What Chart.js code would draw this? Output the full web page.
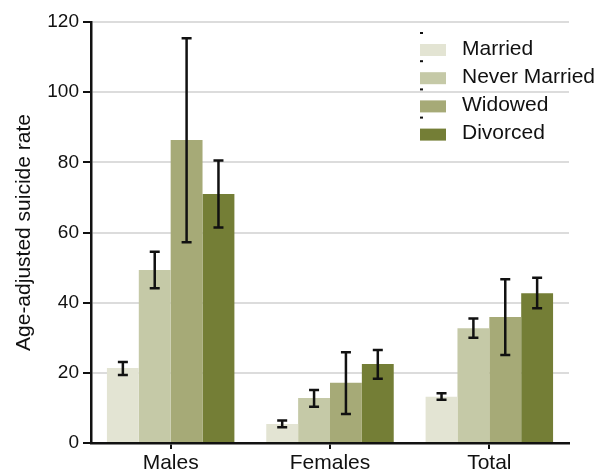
<!DOCTYPE html>
<html>
<head>
<meta charset="utf-8">
<script src="https://cdn.jsdelivr.net/npm/chart.js@4.4.0/dist/chart.umd.min.js"></script>
<style>
  html, body { margin: 0; padding: 0; background: #fff; }
  #wrap { width: 602px; height: 472px; }
</style>
</head>
<body>
<div id="wrap"><canvas id="myChart"></canvas></div>
<script>
const groups = ['Males', 'Females', 'Total'];
const statusLabels = ['Married', 'Never Married', 'Widowed', 'Divorced'];
const statusColors = ['#e3e4d3', '#c5c9a7', '#a6aa77', '#747e36'];

// rates per status, in group order (Males, Females, Total)
const married      = [21.4, 5.4, 13.2];
const neverMarried = [49.3, 12.8, 32.7];
const widowed      = [86.4, 17.2, 35.9];
const divorced     = [71.0, 22.5, 42.7];

// error bar ends
const marriedLow  = [19.4, 4.5, 12.3];
const marriedHigh = [23.1, 6.4, 14.2];
const neverLow    = [44.1, 10.3, 30.0];
const neverHigh   = [54.5, 15.1, 35.5];
const widowedLow  = [57.2, 8.3, 25.1];
const widowedHigh = [115.4, 25.9, 46.7];
const divorcedLow  = [61.4, 18.3, 38.4];
const divorcedHigh = [80.5, 26.5, 47.1];

const yTicks = [0, 20, 40, 60, 80, 100, 120];

const seriesValues = [married, neverMarried, widowed, divorced];
const lows = [marriedLow, neverLow, widowedLow, divorcedLow];
const highs = [marriedHigh, neverHigh, widowedHigh, divorcedHigh];

const FONT = 'Liberation Sans, Arial, Helvetica, sans-serif';

const errorBars = {
  id: 'errorBars',
  afterDatasetsDraw(chart){
    const ctx = chart.ctx;
    const yScale = chart.scales.y;
    ctx.save();
    ctx.strokeStyle = '#111';
    ctx.lineWidth = 2.5;
    chart.data.datasets.forEach((ds, di) => {
      const meta = chart.getDatasetMeta(di);
      meta.data.forEach((bar, i) => {
        const x = bar.x;
        const yl = yScale.getPixelForValue(lows[di][i]);
        const yh = yScale.getPixelForValue(highs[di][i]);
        ctx.beginPath();
        ctx.moveTo(x, yl); ctx.lineTo(x, yh);
        ctx.moveTo(x - 5, yl); ctx.lineTo(x + 5, yl);
        ctx.moveTo(x - 5, yh); ctx.lineTo(x + 5, yh);
        ctx.stroke();
      });
    });
    ctx.restore();
  }
};

const sideLegend = {
  id: 'sideLegend',
  afterDraw(chart){
    const ctx = chart.ctx;
    ctx.save();
    ctx.font = '21px ' + FONT;
    ctx.textBaseline = 'middle';
    chart.data.datasets.forEach((ds, i) => {
      const cy = 50 + i * 28.2;
      ctx.fillStyle = '#111';
      ctx.fillRect(420, cy - 18, 3, 2);
      ctx.fillStyle = ds.backgroundColor;
      ctx.fillRect(420, cy - 6, 26, 12);
      ctx.fillStyle = '#111';
      ctx.fillText(ds.label, 462, cy - 1);
    });
    ctx.restore();
  }
};

const ctx = document.getElementById('myChart');

new Chart(ctx, {
  type: 'bar',
  data: {
    labels: groups,
    datasets: statusLabels.map((lab, i) => ({
      label: lab,
      data: seriesValues[i],
      backgroundColor: statusColors[i],
      borderWidth: 0,
      barPercentage: 1,
      categoryPercentage: 0.8
    }))
  },
  options: {
    responsive: true,
    maintainAspectRatio: false,
    animation: false,
    layout: { padding: { top: 22, right: 33, left: 0, bottom: 0 } },
    plugins: {
      legend: { display: false },
      tooltip: { enabled: false }
    },
    scales: {
      x: {
        afterFit(scale){ scale.height = 29; },
        border: { color: '#111', width: 2.5 },
        grid: { drawOnChartArea: false, offset: false, tickColor: '#111', tickLength: 6, lineWidth: 2 },
        ticks: { color: '#111', font: { family: FONT, size: 21 }, padding: 2 }
      },
      y: {
        min: 0,
        max: 120,
        afterFit(scale){ scale.width = 91; },
        afterBuildTicks(scale){ scale.ticks = yTicks.map(v => ({ value: v })); },
        border: { color: '#111', width: 2.5 },
        grid: { color: '#dcdcdc', lineWidth: 2, tickColor: '#111', tickLength: 8 },
        ticks: { color: '#111', font: { family: FONT, size: 19 }, padding: 4 },
        title: {
          display: true,
          text: 'Age-adjusted suicide rate',
          color: '#111',
          font: { family: FONT, size: 21 },
          padding: { top: 12, bottom: 0 }
        }
      }
    }
  },
  plugins: [errorBars, sideLegend]
});
</script>
</body>
</html>
